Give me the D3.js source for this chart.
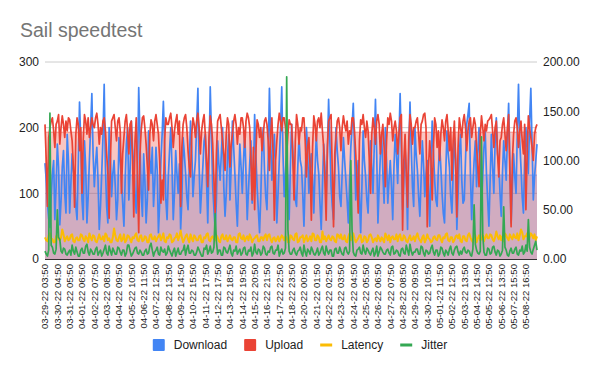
<!DOCTYPE html>
<html>
<head>
<meta charset="utf-8">
<script src="https://cdn.jsdelivr.net/npm/d3@7"></script>
<style>
  html, body { margin: 0; padding: 0; background: #fff; }
  svg { display: block; font-family: "Liberation Sans", Arial, sans-serif; }
</style>
</head>
<body>
<svg id="chart" width="600" height="371"></svg>
<script>
// ---------------- DATA ----------------
const title = "Sail speedtest";
const seriesNames = ["Download", "Upload", "Latency", "Jitter"];
const seriesColors = ["#4285f4", "#ea4335", "#fbbc04", "#34a853"];

// x-axis tick labels (one every 10 samples)
const xLabels = ["03-29-22 03:50","03-30-22 04:50","03-31-22 05:50","04-01-22 06:50","04-02-22 07:50","04-03-22 08:50","04-04-22 09:50","04-05-22 10:50","04-06-22 11:50","04-07-22 12:50","04-08-22 13:50","04-09-22 14:50","04-10-22 15:50","04-11-22 17:50","04-12-22 17:50","04-13-22 18:50","04-14-22 19:50","04-15-22 20:50","04-16-22 21:50","04-17-22 22:50","04-18-22 23:50","04-20-22 00:50","04-21-22 01:50","04-22-22 02:50","04-23-22 03:50","04-24-22 04:50","04-25-22 05:50","04-26-22 06:50","04-27-22 07:50","04-28-22 08:50","04-29-22 09:50","04-30-22 10:50","05-01-22 11:50","05-02-22 12:50","05-03-22 13:50","05-04-22 14:50","05-05-22 12:50","05-06-22 13:50","05-07-22 15:50","05-08-22 16:50"];
const labelEvery = 10;

const leftTicks = [0, 100, 200, 300];
const rightTicks = [0, 50, 100, 150, 200];

// Download (left axis)
const download = [
146,120,85,62,48,95,130,150,60,110,
175,140,52,88,140,165,100,70,190,150,
70,115,160,135,120,80,60,145,239,180,
90,60,180,140,55,95,150,200,252,160,
110,145,170,120,45,80,130,185,266,140,
80,55,200,160,95,130,150,110,60,90,
185,150,120,85,50,120,175,200,90,135,
210,170,140,100,70,130,261,190,100,65,
160,120,55,90,195,150,130,170,80,115,
170,135,40,85,150,190,240,175,90,60,
125,165,200,140,60,100,165,130,100,145,
45,90,185,160,130,95,75,140,210,170,
95,125,150,205,260,140,70,105,140,180,
190,120,55,150,262,190,110,75,45,90,
180,145,120,160,200,110,65,100,155,190,
90,140,210,170,130,85,50,115,175,140,
100,150,195,130,60,105,145,180,85,120,
220,160,110,75,40,95,170,200,135,95,
75,150,260,180,120,150,190,130,55,100,
150,200,262,160,95,130,170,110,60,140,
205,165,120,90,80,140,185,150,140,100,
50,120,200,165,100,140,160,120,70,135,
190,150,130,85,45,110,175,140,95,160,
243,180,110,80,60,130,200,165,140,95,
80,130,185,150,120,90,55,115,170,200,
237,170,90,120,150,95,40,110,195,150,
125,90,70,135,180,140,100,170,243,160,
55,110,160,190,130,85,200,150,85,120,
150,110,60,140,190,160,115,180,252,170,
75,120,170,130,45,160,239,170,110,80,
200,160,135,95,65,120,180,145,95,130,
150,105,50,140,210,165,120,90,80,135,
175,140,100,70,55,130,195,160,140,95,
70,130,185,150,45,100,160,190,120,85,
90,150,205,220,237,130,60,110,150,180,
110,160,200,140,75,125,170,195,130,90,
50,120,190,140,100,175,215,160,145,100,
65,130,180,150,120,185,237,150,55,110,
160,125,100,190,266,180,140,95,70,150,
200,165,130,210,260,175,90,125,150,175];

// Upload (left axis)
const upload = [
205,150,80,185,200,210,215,195,170,205,
210,220,175,200,218,205,185,210,195,215,
212,195,180,140,79,190,215,205,165,200,
100,180,220,210,190,215,185,200,215,205,
200,215,222,205,175,200,190,210,215,195,
160,130,62,150,210,215,220,200,180,210,
215,195,100,160,185,210,220,195,160,205,
210,150,64,180,215,120,40,160,195,215,
218,200,175,140,105,190,212,205,180,210,
220,205,190,150,85,120,90,180,215,205,
205,215,222,200,170,195,210,220,190,210,
80,170,205,215,220,200,165,140,125,190,
215,205,185,210,222,200,160,195,210,220,
190,150,110,185,218,205,175,120,70,160,
210,215,220,200,180,160,135,190,215,205,
140,175,190,210,220,205,175,200,190,215,
215,200,170,210,222,215,200,150,90,170,
75,160,212,205,185,200,165,190,210,215,
205,180,135,190,215,160,59,150,180,205,
222,210,195,215,215,200,160,190,212,205,
205,150,90,180,220,205,175,200,195,215,
215,180,125,170,185,140,59,170,218,205,
180,210,215,200,222,195,170,120,59,170,
210,215,220,130,49,160,185,210,215,200,
165,200,218,205,195,210,175,195,190,215,
215,195,160,120,70,180,212,205,220,200,
185,210,195,150,100,190,215,200,175,210,
220,205,160,190,205,170,110,180,215,205,
222,210,180,200,210,195,160,190,215,220,
44,150,190,130,79,180,220,205,175,200,
200,210,215,190,160,205,210,220,222,200,
49,140,180,150,90,170,215,205,170,195,
150,190,212,200,180,210,220,195,165,200,
120,180,210,150,64,170,215,200,185,210,
220,200,165,195,210,215,185,200,215,205,
170,140,110,190,218,200,180,205,195,210,
212,215,220,195,170,200,210,160,125,180,
185,205,215,190,165,200,220,130,49,150,
190,210,215,200,170,195,210,180,160,205,
75,160,218,200,185,170,150,190,200,205];

// Latency (right axis)
const latency = [
22,19,18,24,26,21,20,17,17,23,
24,20,19,22,30,25,18,21,23,19,
20,24,25,18,17,21,22,19,19,25,
24,20,18,23,21,17,26,22,19,24,
23,18,17,21,25,20,20,23,18,26,
24,19,21,17,17,22,31,24,19,18,
22,25,18,20,25,17,19,24,23,20,
17,22,21,24,26,19,18,23,24,18,
19,23,22,17,17,24,25,20,20,23,
18,21,23,25,19,22,26,18,17,22,
21,25,24,17,18,21,22,26,19,23,
29,22,17,20,23,25,20,17,25,21,
18,24,22,19,19,23,24,17,17,22,
21,25,26,19,18,22,23,20,19,24,
22,18,17,23,25,20,20,24,18,21,
24,20,19,22,22,17,17,25,26,21,
20,24,18,21,23,19,25,22,17,20,
21,23,24,18,18,22,22,19,23,25,
19,24,25,20,17,21,22,18,20,23,
18,21,24,22,19,23,21,17,17,24,
23,20,19,25,26,17,18,22,22,24,
17,21,24,18,20,23,18,26,25,19,
19,24,22,17,17,28,20,23,18,21,
24,20,19,23,22,18,17,25,24,21,
25,20,20,24,18,17,23,26,19,22,
26,21,17,19,21,24,24,17,18,23,
22,17,19,24,25,22,17,20,21,18,
24,21,18,22,20,17,26,23,19,24,
17,22,23,20,20,25,18,23,25,19,
19,24,22,18,17,21,24,19,20,23,
18,23,26,21,19,17,22,24,17,20,
25,21,20,17,18,22,23,20,19,24,
24,20,17,22,21,25,26,19,18,22,
22,17,19,23,24,21,25,18,17,23,
23,19,18,24,26,22,19,17,22,24,
17,21,24,19,20,25,18,22,25,21,
21,25,24,20,18,22,28,23,20,24,
19,23,18,26,24,21,19,25,22,20,
25,22,21,26,19,24,30,27,20,23,
23,26,18,22,26,24,21,25,19,23];

// Jitter (right axis)
const jitter = [
8,5,3,9,148,14,12,6,5,10,
50,22,20,8,6,11,10,5,4,7,
9,4,14,8,5,12,7,3,3,9,
11,6,6,13,15,7,4,10,8,5,
5,10,12,4,7,9,3,6,10,14,
6,4,13,8,4,11,8,5,5,12,
11,7,4,9,9,3,6,14,14,8,
3,5,8,11,12,6,5,9,7,4,
4,8,10,5,6,13,16,9,3,7,
9,12,5,4,12,8,7,10,4,6,
13,9,6,3,8,11,3,7,11,5,
5,8,9,14,4,10,14,6,6,9,
8,4,4,7,12,9,6,3,3,11,
10,14,5,8,13,6,7,12,46,18,
5,9,9,4,4,12,11,7,6,10,
14,6,3,9,8,13,5,8,10,4,
6,11,12,5,4,9,8,12,3,6,
15,7,5,10,9,4,6,13,11,5,
4,8,7,12,13,6,5,9,9,14,
3,7,10,5,6,11,185,30,8,5,
5,9,11,6,4,8,9,12,6,3,
14,7,3,10,8,5,12,9,5,4,
7,11,4,6,10,13,6,4,13,8,
5,9,9,3,3,10,11,6,6,12,
8,5,4,11,12,7,5,8,100,30,
7,4,3,9,10,12,6,5,14,8,
5,11,9,6,4,8,11,3,6,13,
3,7,12,10,7,5,5,9,10,6,
4,12,13,5,6,9,8,4,3,10,
11,6,5,14,9,4,15,8,4,7,
7,10,10,5,5,13,12,6,3,9,
8,5,6,11,14,7,4,9,9,3,
5,12,11,6,3,9,7,4,10,13,
6,4,9,12,13,7,4,8,5,10,
12,7,6,9,8,4,3,10,55,15,
9,6,5,8,124,25,7,4,4,11,
10,5,6,12,13,7,4,9,8,3,
5,9,53,12,9,4,3,8,11,6,
6,10,12,5,4,9,8,13,5,7,
14,8,40,12,7,5,10,14,18,9];

// Filled levels of the two area series (left axis)
const downloadFillLevel = 128;
const uploadFillLevel = 193;

// ---------------- CHART ----------------
const svg = d3.select("#chart");
const W = 600, H = 371;
const plot = { left: 45, right: 537, top: 62, bottom: 259 };
const N = download.length;

const x = d3.scaleLinear().domain([0, N - 1]).range([plot.left, plot.right]);
const yL = d3.scaleLinear().domain([0, 300]).range([plot.bottom, plot.top]);
const yR = d3.scaleLinear().domain([0, 200]).range([plot.bottom, plot.top]);

svg.append("rect").attr("width", W).attr("height", H).attr("fill", "#fff");

// title
svg.append("text").attr("x", 20).attr("y", 37)
  .attr("font-size", 19.5).attr("fill", "#757575").text(title);

// gridlines (left axis)
svg.append("g").selectAll("line").data(leftTicks.filter(d => d > 0)).join("line")
  .attr("x1", plot.left).attr("x2", plot.right)
  .attr("y1", d => yL(d)).attr("y2", d => yL(d))
  .attr("stroke", "#cccccc").attr("stroke-width", 1);

// area fills
const idx = d3.range(N);
const bandArea = level => d3.area().x(i => x(i)).y0(yL(0)).y1(yL(level))(idx);
svg.append("path").attr("d", bandArea(downloadFillLevel))
  .attr("fill", seriesColors[0]).attr("fill-opacity", 0.3);
svg.append("path").attr("d", bandArea(uploadFillLevel))
  .attr("fill", seriesColors[1]).attr("fill-opacity", 0.3);
[[downloadFillLevel, seriesColors[0]], [uploadFillLevel, seriesColors[1]]].forEach(([lv, c]) => {
  svg.append("line").attr("x1", plot.left).attr("x2", plot.right)
    .attr("y1", yL(lv)).attr("y2", yL(lv))
    .attr("stroke", c).attr("stroke-opacity", 0.35).attr("stroke-width", 1.5);
});

// series lines
const lineL = d3.line().x((d, i) => x(i)).y(d => yL(d));
const lineR = d3.line().x((d, i) => x(i)).y(d => yR(d));
const seriesDefs = [
  { data: download, gen: lineL, color: seriesColors[0], w: 1.7 },
  { data: upload, gen: lineL, color: seriesColors[1], w: 1.7 },
  { data: latency, gen: lineR, color: seriesColors[2], w: 2 },
  { data: jitter, gen: lineR, color: seriesColors[3], w: 1.7 }
];
seriesDefs.forEach(s => {
  svg.append("path").attr("d", s.gen(s.data))
    .attr("fill", "none").attr("stroke", s.color)
    .attr("stroke-width", s.w).attr("stroke-linejoin", "round");
});

// baseline
svg.append("line").attr("x1", plot.left).attr("x2", plot.right)
  .attr("y1", plot.bottom + 0.5).attr("y2", plot.bottom + 0.5)
  .attr("stroke", "#333").attr("stroke-width", 1);

// left axis labels
const axL = svg.append("g").attr("transform", `translate(${plot.left - 6},0)`)
  .call(d3.axisLeft(yL).tickValues(leftTicks).tickSize(0).tickPadding(0).tickFormat(d3.format("d")));
axL.select(".domain").remove();
axL.selectAll("text").attr("font-size", 12).attr("fill", "#222").attr("font-family", "Liberation Sans, Arial, sans-serif");

// right axis labels
const axR = svg.append("g").attr("transform", `translate(${plot.right + 6},0)`)
  .call(d3.axisRight(yR).tickValues(rightTicks).tickSize(0).tickPadding(0).tickFormat(d3.format(".2f")));
axR.select(".domain").remove();
axR.selectAll("text").attr("font-size", 12).attr("fill", "#222").attr("font-family", "Liberation Sans, Arial, sans-serif");

// x labels (rotated)
svg.append("g").selectAll("text").data(xLabels).join("text")
  .attr("transform", (d, k) => `translate(${x(k * labelEvery)},${plot.bottom + 5}) rotate(-90)`)
  .attr("text-anchor", "end").attr("dy", "0.35em")
  .attr("font-size", 9.6).attr("fill", "#222").text(d => d);

// legend
const legend = svg.append("g");
let cx = 0;
seriesNames.forEach((name, k) => {
  const g = legend.append("g");
  if (k < 2) {
    g.append("rect").attr("x", cx).attr("y", -6).attr("width", 12).attr("height", 12)
      .attr("rx", 1).attr("fill", seriesColors[k]);
  } else {
    g.append("rect").attr("x", cx).attr("y", -1.5).attr("width", 12).attr("height", 3)
      .attr("fill", seriesColors[k]);
  }
  const t = g.append("text").attr("x", cx + 21).attr("y", 0).attr("dy", "0.35em")
    .attr("font-size", 12).attr("fill", "#222").text(name);
  cx += 21 + t.node().getComputedTextLength() + 17;
});
const legendW = cx - 17;
legend.attr("transform", `translate(${(W - legendW) / 2},345)`);
</script>
</body>
</html>
